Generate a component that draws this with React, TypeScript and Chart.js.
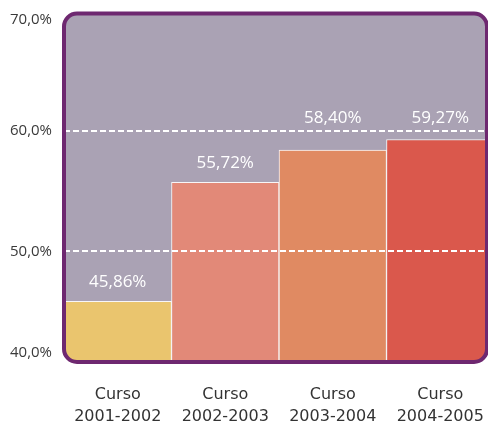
import React, { useEffect, useRef } from "react";
import { Chart, registerables } from "chart.js";

Chart.register(...registerables);

const categories: string[][] = [
  ["Curso", "2001-2002"],
  ["Curso", "2002-2003"],
  ["Curso", "2003-2004"],
  ["Curso", "2004-2005"],
];
const values: number[] = [45.86, 55.72, 58.4, 59.27];
const barColors: string[] = ["#eac56e", "#e28978", "#e08a62", "#da584c"];
const yTicks: number[] = [40, 50, 60, 70];
const gridValues: number[] = [50, 60];

const PLOT_BG = "#aaa2b4";
const FRAME = "#6e2870";
const FONT = "'DejaVu Sans', sans-serif";
const LABEL_FONT = "'Open Sans', sans-serif";

function frameRect(chart: any) {
  const a = chart.chartArea;
  const left = a.left;
  const right = Math.min(a.right, 487);
  const top = a.top + 3.5;
  const bottom = a.bottom - 10;
  return { left, right, top, bottom };
}

function roundPath(ctx: CanvasRenderingContext2D, r: { left: number; right: number; top: number; bottom: number }, rad: number) {
  ctx.beginPath();
  ctx.roundRect(r.left, r.top, r.right - r.left, r.bottom - r.top, rad);
}

const framePlugin = {
  id: "framePlugin",
  beforeDatasetsDraw(chart: any) {
    const ctx: CanvasRenderingContext2D = chart.ctx;
    const r = frameRect(chart);
    ctx.save();
    roundPath(ctx, r, 13);
    ctx.fillStyle = PLOT_BG;
    ctx.fill();
    ctx.save();
    roundPath(ctx, r, 13);
    ctx.clip();
  },
  afterDatasetsDraw(chart: any) {
    const ctx: CanvasRenderingContext2D = chart.ctx;
    const r = frameRect(chart);
    const y = chart.scales.y;
    // dashed gridlines over bars
    ctx.strokeStyle = "#ffffff";
    ctx.lineWidth = 2;
    ctx.setLineDash([6, 3]);
    gridValues.forEach((v) => {
      const py = Math.round(y.getPixelForValue(v));
      ctx.beginPath();
      ctx.moveTo(r.left, py);
      ctx.lineTo(r.right, py);
      ctx.stroke();
    });
    ctx.setLineDash([]);
    ctx.restore();

    // data labels
    const meta = chart.getDatasetMeta(0);
    ctx.font = `17px ${LABEL_FONT}`;
    ctx.fillStyle = "#ffffff";
    ctx.textAlign = "center";
    ctx.textBaseline = "middle";
    meta.data.forEach((bar: any, i: number) => {
      let ly = bar.y - 19;
      gridValues.forEach((g) => {
        const gp = y.getPixelForValue(g);
        if (Math.abs(ly - gp) < 11) ly = gp - 13;
      });
      ctx.fillText(values[i].toFixed(2).replace(".", ",") + "%", bar.x, ly);
    });

    // frame
    ctx.strokeStyle = FRAME;
    ctx.lineWidth = 4;
    roundPath(ctx, r, 13);
    ctx.stroke();

    // y labels
    ctx.font = `15px ${LABEL_FONT}`;
    ctx.fillStyle = "#3a3a3a";
    ctx.textAlign = "right";
    ctx.textBaseline = "middle";
    yTicks.forEach((v) => {
      let py = y.getPixelForValue(v);
      py = Math.max(r.top + 6.5, Math.min(r.bottom - 9, py));
      ctx.fillText(v.toFixed(1).replace(".", ",") + "%", 52, py);
    });
    ctx.restore();
  },
};

export default function App() {
  const ref = useRef<HTMLCanvasElement | null>(null);
  useEffect(() => {
    if (!ref.current) return;
    const chart = new Chart(ref.current, {
      type: "bar",
      data: {
        labels: categories,
        datasets: [
          {
            data: values,
            backgroundColor: barColors,
            borderColor: "rgba(255,255,255,0.9)",
            borderWidth: 1,
            borderSkipped: "bottom",
            categoryPercentage: 1,
            barPercentage: 1,
          },
        ],
      },
      options: {
        animation: false,
        responsive: false,
        devicePixelRatio: 1,
        layout: { padding: { left: 64, top: 10, right: 1, bottom: 0 } },
        plugins: { legend: { display: false }, tooltip: { enabled: false } },
        scales: {
          x: {
            grid: { display: false, drawTicks: false },
            border: { display: false },
            ticks: {
              color: "#333333",
              font: { family: FONT, size: 16, lineHeight: 1.375 },
              padding: 12,
              maxRotation: 0,
              autoSkip: false,
            },
            afterFit: (scale: any) => {
              scale.height = 49;
            },
          },
          y: {
            display: false,
            min: 40,
            max: 70,
          },
        },
      },
      plugins: [framePlugin],
    });
    return () => chart.destroy();
  }, []);
  return (
    <div
      style={{
        position: "fixed",
        left: 0,
        top: 0,
        width: 488,
        height: 421,
        overflow: "hidden",
        background: "#ffffff",
      }}
    >
      <canvas ref={ref} width={496} height={421} style={{ width: 496, height: 421, display: "block" }} />
    </div>
  );
}
